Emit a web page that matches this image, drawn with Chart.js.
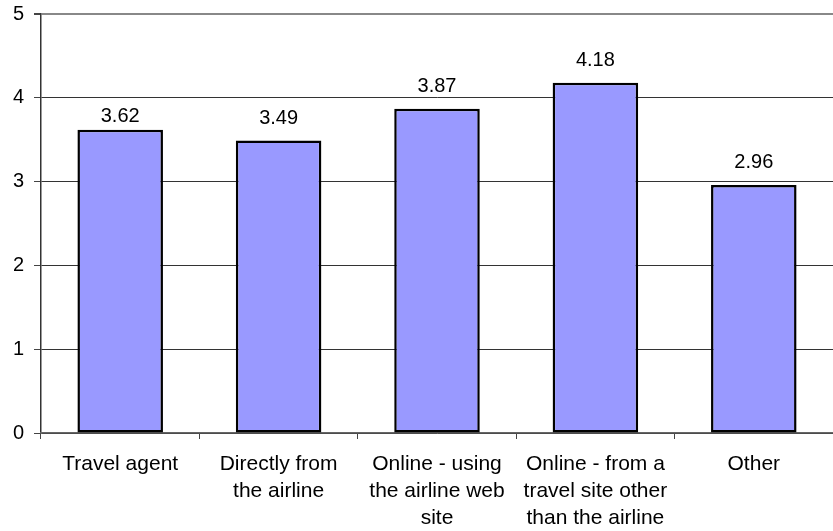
<!DOCTYPE html>
<html>
<head>
<meta charset="utf-8">
<script src="https://cdn.jsdelivr.net/npm/chart.js@4/dist/chart.umd.min.js"></script>
<style>
  html, body { margin: 0; padding: 0; background: #fff; }
  #wrap { width: 833px; height: 531px; position: relative; }
</style>
</head>
<body>
<div id="wrap"><canvas id="chart"></canvas></div>
<script>
// Booking channels and their average ratings
const categories = [
  'Travel agent',
  ['Directly from', 'the airline'],
  ['Online - using', 'the airline web', 'site'],
  ['Online - from a', 'travel site other', 'than the airline'],
  'Other'
];
const ratings = [3.62, 3.49, 3.87, 4.18, 2.96];
const yTicks = [0, 1, 2, 3, 4, 5];

const FONT = "'Liberation Sans', Arial, sans-serif";

// Prints each bar's value above it; the first label sits lower so it
// stays clear of the gridline at 4
const labelGap = [8, 17, 17, 17, 17];
const valueLabels = {
  id: 'valueLabels',
  afterDatasetsDraw(chart) {
    const ctx = chart.ctx;
    const meta = chart.getDatasetMeta(0);
    ctx.save();
    ctx.font = '20px ' + FONT;
    ctx.fillStyle = '#000';
    ctx.textAlign = 'center';
    ctx.textBaseline = 'alphabetic';
    meta.data.forEach((bar, i) => {
      ctx.fillText(ratings[i].toFixed(2), bar.x, bar.y - labelGap[i]);
    });
    ctx.restore();
  }
};

new Chart(document.getElementById('chart'), {
  type: 'bar',
  data: {
    labels: categories,
    datasets: [{
      data: ratings,
      backgroundColor: '#9999ff',
      borderColor: '#000',
      borderWidth: 2.5,
      borderSkipped: false,
      barPercentage: 0.54,
      categoryPercentage: 1
    }]
  },
  options: {
    responsive: true,
    maintainAspectRatio: false,
    animation: false,
    devicePixelRatio: 1,
    layout: { padding: { top: 14, right: 0, left: 0, bottom: 0 } },
    plugins: {
      legend: { display: false },
      tooltip: { enabled: false }
    },
    scales: {
      y: {
        min: 0,
        max: 5,
        afterBuildTicks(scale) { scale.ticks = yTicks.map(v => ({ value: v })); },
        afterFit(scale) {
          scale.width = 41;
          scale.paddingTop = 0;
          scale.paddingBottom = 0;
        },
        ticks: {
          color: '#000',
          font: { family: FONT, size: 20 },
          padding: 10
        },
        grid: {
          color: (c) => c.tick && c.tick.value === 5 ? '#888' : '#333',
          lineWidth: (c) => c.tick && c.tick.value === 5 ? 2 : 1,
          tickLength: 7,
          tickColor: '#444'
        },
        border: { color: '#333', width: 1.5 }
      },
      x: {
        afterFit(scale) { scale.height = 98; },
        ticks: {
          color: '#000',
          font: { family: FONT, size: 21, lineHeight: 1.28 },
          maxRotation: 0,
          autoSkip: false,
          padding: 12
        },
        grid: {
          offset: true,
          drawOnChartArea: false,
          tickLength: 6,
          tickColor: '#444'
        },
        border: { color: '#666', width: 1.5 }
      }
    }
  },
  plugins: [valueLabels]
});
</script>
</body>
</html>
